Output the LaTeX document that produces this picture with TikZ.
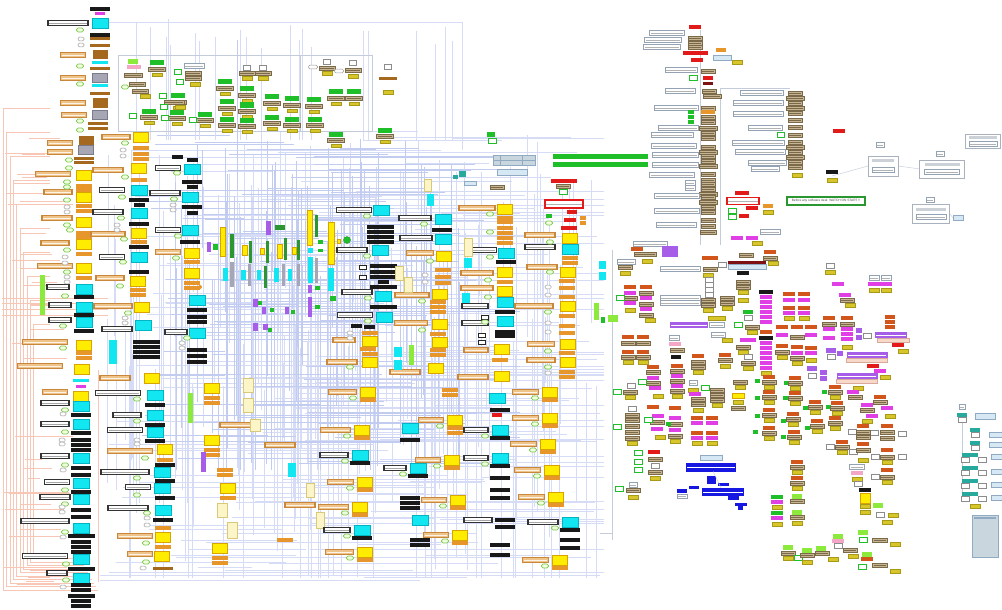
\documentclass[tikz,border=0pt]{standalone}
\usepackage{fontspec}
\newfontfamily\arialfont{Liberation Sans}
\definecolor{cY}{HTML}{FFEC00}\definecolor{cYd}{HTML}{D9A300}
\definecolor{cC}{HTML}{12E6F0}\definecolor{cCd}{HTML}{00B4C4}
\definecolor{cO}{HTML}{E6962A}\definecolor{cN}{HTML}{A4691E}
\definecolor{cQ}{HTML}{A7A6B4}\definecolor{cQd}{HTML}{7A7A8A}
\definecolor{cM}{HTML}{E13FE6}\definecolor{cLT}{HTML}{EFC48A}
\definecolor{cLTd}{HTML}{C8873A}\definecolor{cGo}{HTML}{F0FFE0}
\definecolor{cGod}{HTML}{7CC94C}\definecolor{cDG}{HTML}{2C9630}
\definecolor{cG}{HTML}{1FBF2A}\definecolor{cPu}{HTML}{A65DE8}
\definecolor{cL}{HTML}{8BEA3C}\definecolor{cPale}{HTML}{FBF5C8}
\definecolor{cPaled}{HTML}{D7C87A}\definecolor{cR}{HTML}{D2561C}
\definecolor{cT}{HTML}{C6B391}\definecolor{cTd}{HTML}{7A6A4A}
\definecolor{cK}{HTML}{D6C62A}\definecolor{cKd}{HTML}{A89A18}
\definecolor{cLW}{HTML}{93A3B3}\definecolor{cRed}{HTML}{E21A1A}
\definecolor{cDR}{HTML}{7E1212}\definecolor{cLB}{HTML}{D6E8F4}
\definecolor{cLBd}{HTML}{8FAAC2}\definecolor{cPk}{HTML}{F4A6C6}
\definecolor{cPl}{HTML}{F8D8C8}\definecolor{cPld}{HTML}{D8A898}
\definecolor{cTl}{HTML}{27A99E}\definecolor{cBl}{HTML}{1717E2}
\definecolor{cGrid}{HTML}{D6DCF5}\definecolor{cGrid2}{HTML}{C2CCF0}
\definecolor{cOrl}{HTML}{F7C6B4}\definecolor{cThin}{HTML}{C4CCDC}
\definecolor{cPan}{HTML}{A9B2BC}\definecolor{cPanB}{HTML}{C9D6DE}
\tikzset{
 bx/.style={rectangle,inner sep=0pt,outer sep=0pt,draw=none},
 txt/.style={path picture={\draw[#1,line width=.55pt] ([xshift=1.3pt]path picture bounding box.west) -- ([xshift=-1.3pt]path picture bounding box.east);}},
 sY/.style={bx,fill=cY,draw=cYd,line width=.4pt,minimum width=15,minimum height=10},
 sC/.style={bx,fill=cC,draw=cCd,line width=.4pt,minimum width=16,minimum height=10},
 sB/.style={bx,fill=black!90,minimum width=20,minimum height=3.5},
 sW/.style={bx,fill=black!90,minimum width=27,minimum height=3.5},
 sb/.style={bx,fill=black!90,minimum width=11,minimum height=3.5},
 sO/.style={bx,fill=cO,minimum width=16,minimum height=3.2},
 sN/.style={bx,fill=cN,minimum width=15,minimum height=9},
 sQ/.style={bx,fill=cQ,draw=cQd,line width=.4pt,minimum width=15,minimum height=9},
 su/.style={bx,fill=cN,minimum width=20,minimum height=3},
 se/.style={bx,fill=cC,minimum width=16,minimum height=3},
 sM/.style={bx,fill=cM,minimum width=10,minimum height=3},
 sx/.style={bx,fill=white,draw=black!85,line width=.9pt,minimum width=7,minimum height=4},
 labT/.style={bx,fill=cLT,draw=cLTd,line width=1.2pt,minimum height=4.5,txt=white!80!cLT},
 labK/.style={bx,fill=white,draw=black!80,line width=1.2pt,minimum height=4.5,txt=black!35},
 gov/.style={bx,fill=cGo,draw=cGod,line width=.6pt,rounded corners=1.6pt,minimum width=7,minimum height=4},
 gw/.style={bx,fill=white,draw=black!40,line width=.5pt,rounded corners=1.2pt,minimum width=6,minimum height=3.6},
 vY/.style={bx,fill=cY,draw=cYd,line width=.3pt},
 vG/.style={bx,fill=cDG},
 vg/.style={bx,fill=cG},
 vC/.style={bx,fill=cC},
 vQ/.style={bx,fill=cQ},
 vP/.style={bx,fill=cPu},
 vL/.style={bx,fill=cL},
 vp/.style={bx,fill=cPale,draw=cPaled,line width=.4pt},
 rr/.style={bx,fill=cR,minimum width=12,minimum height=4.2},
 rm/.style={bx,fill=cM,minimum width=12,minimum height=4},
 rt/.style={bx,fill=cT,draw=cTd,line width=.3pt,minimum width=14,minimum height=4,txt=cTd},
 rk/.style={bx,fill=cK,draw=cKd,line width=.3pt,minimum width=10,minimum height=3.6},
 rb/.style={bx,fill=black!90,minimum width=12,minimum height=4},
 rg/.style={bx,fill=cG,minimum width=12,minimum height=4.5},
 rl/.style={bx,fill=cL,minimum width=10,minimum height=5},
 rw/.style={bx,fill=white,draw=black!45,line width=.45pt,minimum width=8,minimum height=5},
 rgg/.style={bx,fill=white,draw=cG,line width=.6pt,minimum width=8,minimum height=5},
 rlw/.style={bx,fill=white,draw=cLW,line width=.5pt,minimum height=5,txt=black!30},
 rp/.style={bx,fill=cPu,minimum width=12,minimum height=5},
 rd/.style={bx,fill=cRed,minimum width=12,minimum height=4.5},
 rdr/.style={bx,fill=cDR,minimum width=10,minimum height=3},
 ro/.style={bx,fill=cO,minimum width=10,minimum height=4},
 rlb/.style={bx,fill=cLB,draw=cLBd,line width=.4pt,minimum height=5},
 rpk/.style={bx,fill=cPk,minimum width=12,minimum height=4.5},
 rpl/.style={bx,fill=cPl,draw=cPld,line width=.3pt,minimum height=4},
 rtl/.style={bx,fill=cTl,minimum width=10,minimum height=4},
 rbl/.style={bx,fill=cBl},
 ry/.style={bx,fill=cY,draw=cYd,line width=.4pt,minimum width=12,minimum height=5},
 rR/.style={bx,fill=white,draw=cRed,line width=1.2pt,minimum width=32,minimum height=6,txt=black!30},
 gridA/.style={draw=cGrid,line width=.35pt},
 gridB/.style={draw=cGrid2,line width=.35pt},
 orl/.style={draw=cOrl,line width=.45pt},
 thinln/.style={draw=cThin,line width=.45pt},
 panel/.style={bx,fill=white,draw=cPan,line width=.9pt},
}
\newcommand\UY[3]{\node[sY] at (#1,#2) {};\node[labT,minimum width=#3] at ({#1-11.5-#3/2},#2) {};\node[gov] at ({#1-15},{#2+6}) {};\node[sO] at (#1,{#2+8}) {};}
\newcommand\UC[3]{\node[sC] at (#1,#2) {};\node[labK,minimum width=#3] at ({#1-12-#3/2},#2) {};\node[gov] at ({#1-15},{#2+6}) {};\node[sB] at (#1,{#2+8}) {};}
\newcommand\rtk[2]{\node[rr] at (#1,#2) {};\node[rt] at (#1,{#2+5}) {};\node[rk] at (#1,{#2+10}) {};}
\newcommand\Gg[2]{\node[rg,minimum width=14,minimum height=5] at (#1,#2) {};\node[rt,minimum width=17] at (#1,{#2+6}) {};\node[rk] at (#1,{#2+11.5}) {};}
\begin{document}
\begin{tikzpicture}[x=1pt,y=-1pt]
\useasboundingbox (0,0) rectangle (1002,610);
\fill[white] (0,0) rectangle (1002,610);
% ---------- background connector mesh ----------
\pgfmathsetseed{2024}
\foreach \i in {1,...,170}{\pgfmathsetmacro\xa{106+494*rnd}\pgfmathsetmacro\ya{130+260*rnd}\pgfmathsetmacro\yb{min(578,\ya+60+330*rnd)}\draw[gridA] (\xa,\ya) -- (\xa,\yb);}
\foreach \i in {1,...,170}{\pgfmathsetmacro\yy{130+448*rnd}\pgfmathsetmacro\xa{102+380*rnd}\pgfmathsetmacro\xb{min(604,\xa+50+320*rnd)}\draw[gridA] (\xa,\yy) -- (\xb,\yy);}
\foreach \i in {1,...,80}{\pgfmathsetmacro\xa{165+300*rnd}\pgfmathsetmacro\ya{135+150*rnd}\pgfmathsetmacro\yb{min(470,\ya+80+200*rnd)}\draw[gridB] (\xa,\ya) -- (\xa,\yb);}
\foreach \i in {1,...,80}{\pgfmathsetmacro\yy{135+330*rnd}\pgfmathsetmacro\xa{140+200*rnd}\pgfmathsetmacro\xb{min(520,\xa+60+200*rnd)}\draw[gridB] (\xa,\yy) -- (\xb,\yy);}
\foreach \i in {1,...,22}{\pgfmathsetmacro\xa{108+355*rnd}\pgfmathsetmacro\ya{18+30*rnd}\draw[gridA] (\xa,\ya) -- (\xa,140);}
\draw[gridA] (104,22) -- (462,22) -- (462,150);
\draw[gridB] (237,40) -- (237,190);
\draw[gridA] (100,575) -- (600,575) (100,580) -- (420,580);
% left orange connector lines
\foreach \i in {0,...,9}{\pgfmathsetmacro\xx{3+3.4*\i}\pgfmathsetmacro\yt{108+24*\i}\pgfmathsetmacro\yb{590-3.5*\i}\draw[orl] (50,\yt) -- (\xx,\yt) -- (\xx,\yb) -- (98-2*\i,\yb);}
\foreach \i in {1,...,40}{\pgfmathsetmacro\yy{130+460*rnd}\pgfmathsetmacro\xa{3+30*rnd}\pgfmathsetmacro\xb{40+35*rnd}\draw[orl] (\xa,\yy) -- (\xb,\yy);}
\foreach \yy in {298,303,309,315}{\draw[orl] (2,\yy) -- (108,\yy);}
\draw[orl] (98,370) -- (98,582);
% right side thin lines
\draw[thinln] (700,30) -- (700,245) (720,88) -- (720,245) (720,88) -- (790,88);
\draw[thinln] (962,420) -- (962,500) (612,250) -- (612,540) (600,533) -- (612,533);
\foreach \yy in {455,468,481,494}{\draw[thinln] (962,\yy) -- (965,\yy);}
\draw[thinln] (898,166) -- (920,169) (950,214) -- (953,218) (832,176) -- (868,166);
\draw[thinln] (118,55) rectangle (372,131);
\draw[thinln] (300,55) -- (300,131);
% ---------- left/main block boxes ----------
\foreach \cc/\x/\y in {sB/100/9,sM/100/14,sC/100/23,sB/100/35,su/100/39,su/100/46,sN/100/55,se/100/63,su/100/69,sQ/100/78,se/100/86,su/100/94,sN/100/103,sQ/100/115,su/98/123,su/98/128,
sN/86/140,sQ/86/150,su/84/158,su/84/162,sY/84/175,sO/84/186,sO/84/190,sY/84/197,sO/84/206,sO/84/211,sY/84/222,sO/84/233,sO/84/237,sY/84/244,sO/84/254,sY/84/268,sO/84/278,sC/84/289,sB/84/297,sC/84/307,sB/84/315,sC/84/322,sB/84/331,sY/84/345,sO/84/353,sO/84/358,sY/82/369,se/81/380,sM/81/386,sY/81/396,sC/81/406,sB/81/415,sC/81/424,sB/81/433,sB/81/440,sB/81/445,sB/81/450,sC/81/458,sB/81/468,sB/81/475,sC/81/483,sB/81/492,sC/81/499,sB/81/510,sB/81/517,sC/81/528,sW/81/536,sB/81/542,sB/81/547,sB/81/552,sC/81/559,sW/81/569,sC/81/578,sB/81/585,sB/81/590,sW/81/596,sB/81/601,sB/81/606,
sY/141/137,sO/141/148,sO/141/154,sO/141/159,sY/139/168,sO/139/180,sC/139/190,sB/139/200,sb/139/205,sC/139/213,sB/139/224,sY/139/233,sO/139/242,sB/139/247,sC/139/257,sB/139/272,sY/138/281,sO/138/290,sO/138/295,sY/142/307,sC/143/325,sW/146/342,sW/146/347,sW/146/352,sW/146/357,sY/152/378,sC/155/395,sB/155/405,sC/155/415,sB/155/425,sC/155/432,sB/155/441,sY/165/449,sO/165/460,sB/165/465,sC/162/472,sB/165/481,sC/162/488,sB/165/498,sC/163/510,sB/163/520,sO/163/528,sY/163/537,sO/163/547,sY/162/556,su/163/568,
sb/177/157,sb/192/160,sC/192/169,sB/192/182,sb/192/187,sC/190/197,sB/192/207,sb/192/213,sC/190/230,sB/190/242,sY/192/253,sO/192/262,sY/192/273,sO/192/283,sO/192/288,sC/197/300,sB/197/310,sB/197/317,sB/197/322,sC/197/333,sB/197/350,sB/197/356,sB/197/362,
sC/381/210,sW/380/227,sW/380/232,sW/380/237,sW/380/242,sC/443/219,sB/442/230,sC/443/239,sC/380/250,sY/444/256,sx/363/267,sx/363/277,sW/383/266,sW/383/272,sW/383/277,sb/383/282,sW/383/287,sC/383/296,sY/440/294,sO/443/270,sO/443/277,sO/443/283,sW/383/307,sC/384/317,sY/440/324,sb/356/326,sb/369/327,sO/438/302,sO/438/307,sO/438/312,sO/438/334,sY/440/342,sO/438/350,sO/438/355,sY/370/341,sO/370/333,sO/368/349,sO/370/354,sY/370/362,sY/436/368,
sY/505/209,sO/505/218,sO/505/222,sO/505/228,sO/505/233,sO/505/238,sO/505/243,sC/506/253,sB/506/262,sY/505/272,sO/505/282,sY/505/291,sC/505/302,sB/505/312,sC/505/321,sx/485/317,sB/505/332,sB/505/336,sx/482/335,sx/482/342,sY/502/349,sO/500/360,sY/502/376,
sY/570/238,sC/570/249,sO/570/258,sO/570/263,sY/568/272,sO/567/281,sO/567/288,sO/567/297,sY/568/306,sO/567/316,sO/567/326,sO/567/333,sY/568/344,sO/567/353,sY/568/362,sO/567/372,sO/567/377,
sY/212/388,sO/212/398,sO/212/403,sY/212/440,sO/212/450,sO/212/455,sO/225/470,sO/225/475,sY/228/488,sO/228/498,sY/220/548,sO/220/558,sO/220/563,sO/285/540,
sC/410/428,sB/410/440,sB/410/498,sB/410/503,sB/410/508,sC/420/520,sB/420/540,sB/420/545,sO/450/390,sO/450/395,sO/455/433,
sC/497/398,sB/500/410,sB/500/478,sB/500/490,sB/500/498,sB/505/520,sB/505/527,sB/500/545,sB/500/555,sB/570/540,sB/570/548}
{\node[\cc] at (\x,\y) {};}
% labels left of the column boxes
\foreach \cc/\x/\y/\w in {K/68/23/40,T/73/55/25,T/73/78/25,T/73/103/25,T/74/115/25,T/60/143/25,T/60/152/25,T/53/174/35,T/58/192/28,T/57/218/30,T/55/243/28,T/55/266/35,K/58/287/22,K/60/305/22,K/60/320/22,T/45/342/45,T/40/366/45,T/55/392/25,K/55/403/28,K/55/424/28,K/55/456/28,K/57/482/25,K/55/497/30,K/45/521/48,K/45/556/45,K/57/573/20,
T/116/137/28,T/108/170/30,K/112/190/25,K/108/212/30,T/108/234/34,K/112/257/25,T/110/278/28,T/113/306/38,K/117/329/30,T/115/378/30,K/118/393/45,K/127/415/28,K/125/430/35,T/130/451/45,K/125/472/48,K/138/487/25,K/128/508/40,T/135/536/35,T/140/554/25,
K/168/168/25,K/165/193/30,K/168/230/25,T/168/252/25,K/176/332/22,
K/354/210/35,K/352/250/30,K/357/292/30,K/355/315/35,K/415/218/32,K/416/238/32,T/420/253/27,T/412/295/34,T/411/323/33,T/344/340/22,T/342/362/30,T/405/372/30,
T/477/208/36,K/484/250/25,T/477/273/32,T/477/288/32,K/475/306/26,K/475/323/26,T/476/350/24,T/473/377/30,
T/540/235/30,K/540/247/30,T/542/267/30,T/534/306/38,T/541/344/27,T/541/360/28,
K/478/520/28,T/240/425/40,T/280/445/30,T/300/505/30}
{\node[lab\cc,minimum width=\w] at (\x,\y) {};}
\foreach \x/\y in {80/30,80/66,80/84,80/121,80/130,69/160,69/168,67/182,67/187,67/200,67/225,70/230,67/250,67/272,65/296,63/326,63/348,65/410,65/432,65/465,65/490,65/504,65/532,66/564,66/580,
125/143,125/177,122/197,121/218,124/239,123/262,120/286,128/313,137/399,137/421,145/458,137/478,137/495,147/513,146/543,146/562,
177/173,176/258,187/338,178/236,174/199,367/216,424/224,367/256,430/261,368/298,422/301,368/321,422/330,350/367,
490/214,490/232,490/257,488/280,488/297,485/322,549/223,550/242,550/272,548/312,548/351,548/367,125/87}
{\node[gov] at (\x,\y) {};}
\foreach \x/\y in {81/39,81/45,67/207,67/212,65/257,65/263,67/277,67/282,63/414,62/440,62/444,63/470,62/507,62/512,63/537,63/587,123/150,123/156,117/225,117/230,125/318,125/323,137/440,137/444,147/518,147/525,143/568,173/205,173/210,182/343,182/348,425/275,425/282,350/333,350/338,548/287,548/295,548/323,548/332,548/373}
{\node[gw] at (\x,\y) {};}
% vertical bars and odd-sized boxes
\foreach \cc/\x/\y/\w/\h in {Y/223/242/5/29,G/232/246/4/24,P/209/247/4/10,g/215/247/5/6,C/225/274/5/13,Q/232/274/4/25,Y/245/250/5/10,G/250/252/3/22,C/243/275/5/10,Q/249/275/3/22,P/268/228/5/14,G/280/227/10/5,Y/262/251/4/6,G/267/252/3/22,C/259/275/4/10,G/265/277/3/22,Y/280/251/5/14,G/285/249/3/22,C/276/275/5/14,Q/283/275/3/22,Y/294/251/4/7,G/298/250/3/20,C/290/275/4/12,Q/298/275/3/22,
Y/310/228/5/35,G/316/226/3/22,C/310/250/5/5,g/320/242/5/4,g/320/250/5/3,C/310/270/5/26,Q/316/270/3/25,P/310/289/4/8,g/317/288/5/4,P/310/307/4/20,g/317/307/5/4,Y/331/243/6/42,C/331/279/6/23,g/333/298/6/5,Y/339/241/3/4,
P/255/303/5/8,g/260/303/4/4,P/264/310/4/7,g/272/310/4/4,P/287/310/4/7,g/293/312/4/4,P/255/327/5/8,P/265/327/5/6,g/270/330/4/4,
C/113/352/8/24,L/42/295/5/40,L/190/408/5/30,p/399/273/8/14,p/408/285/8/15,L/411/355/5/20,C/398/352/8/10,C/398/365/8/10,p/468/247/8/18,C/468/263/8/10,C/466/298/8/10,L/596/311/5/17,C/602/265/7/8,C/602/276/7/8,p/428/185/7/12,C/430/200/7/12,
p/248/385/10/14,p/248/405/10/14,p/255/425/10/12,P/203/462/5/20,p/222/510/10/14,p/232/530/10/16,C/292/470/8/14,p/310/490/8/14,p/320/520/8/16}
{\node[v\cc,minimum width=\w,minimum height=\h] at (\x,\y) {};}
\node[circle,fill=cG,draw=cDG,line width=.4pt,minimum size=7,inner sep=0pt] (gc) at (347,240) {};
\node[circle,fill=cO,minimum size=4,inner sep=0pt] (oc) at (200,287) {};
% lower main block units
\UY{368}{392}{28}\UY{362}{430}{30}\UC{360}{455}{28}\UY{365}{482}{26}\UY{360}{507}{30}\UC{362}{530}{26}\UY{365}{552}{28}
\UC{418}{468}{22}\UY{455}{420}{25}\UY{452}{460}{25}\UY{458}{500}{25}\UY{460}{535}{25}
\UC{500}{430}{24}\UC{500}{458}{24}
\UY{550}{392}{26}\UY{550}{418}{26}\UY{548}{444}{26}\UY{552}{470}{26}\UY{556}{497}{26}\UC{570}{522}{30}\UY{560}{560}{26}
% top-left cluster groups
\Gg{157}{63}\Gg{225}{82}\Gg{247}{89}\Gg{272}{97}\Gg{292}{99}\Gg{314}{100}\Gg{336}{92}\Gg{354}{92}\Gg{227}{102}\Gg{247}{105}\Gg{272}{117}\Gg{292}{119}\Gg{315}{119}\Gg{227}{119}\Gg{247}{120}\Gg{336}{134}\Gg{178}{96}\Gg{177}{112}\Gg{205}{114}\Gg{149}{111}\Gg{385}{130}
% ---------- right side small boxes ----------
\foreach \cc/\x/\y in {rr/637/249,rk/647/261,rt/625/267,rk/625/273,rw/722/265,rt/746/255,rr/770/252,rt/770/258,rk/773/263,rt/710/269,rk/708/275,rw/709/280,rw/709/285,rw/709/290,rw/709/295,rt/708/300,rt/708/305,rk/708/310,rb/743/273,rt/743/282,rt/743/287,rk/743/292,rk/743/300,rt/727/298,rt/727/303,rk/727/308,
rr/630/287,rr/646/287,rm/630/293,rt/646/293,rt/630/298,rm/646/298,rm/630/303,rt/646/304,rm/646/309,rk/630/310,rt/646/315,rk/650/320,rgg/620/298,
rk/727/340,rgg/738/325,rw/748/318,rt/752/327,rk/752/332,
rm/766/297,rm/766/302,rm/766/307,rm/766/312,rm/766/317,rm/766/322,rr/766/332,rm/766/343,rm/766/348,rm/766/353,rm/766/358,rm/766/363,rm/766/368,rk/766/373,
rt/743/347,rk/743/352,rw/748/357,rt/748/363,rk/748/368,
rr/789/294,rr/804/294,rm/789/300,rm/804/300,rr/789/308,rr/804/308,rm/789/313,rm/804/313,rk/789/318,rk/804/318,
rr/782/327,rr/797/327,rr/811/327,rm/782/335,rt/797/337,rm/811/335,rr/782/346,rr/797/347,rr/811/348,rt/782/352,rm/797/353,rm/811/353,rk/782/357,rt/797/358,rk/811/360,rk/797/363,
rr/829/318,rr/847/318,rt/829/324,rt/847/324,rm/829/329,rm/847/329,rm/847/334,rm/829/338,rm/847/339,rk/847/347,
rw/830/266,rk/830/272,rm/838/284,rm/845/295,rt/847/300,rk/850/305,rm/874/284,rm/886/284,rk/874/290,rk/886/290,
rw/867/336,rd/898/345,rk/903/351,rw/831/357,rd/873/366,rm/880/371,rk/885/377,rw/812/376,rk/858/388,
rm/853/392,rt/855/397,rr/880/397,rt/880/402,rm/887/408,rm/867/405,rt/867/410,rm/872/416,rk/890/416,rk/867/421,
rw/852/432,rw/874/433,rw/902/434,rr/863/426,rt/863/432,rt/863/437,rr/887/426,rt/887/432,rt/887/438,
rr/842/442,rt/842/447,rk/842/452,rw/830/447,rw/853/452,rr/863/444,rt/863/450,rk/863/460,rw/875/457,rr/887/450,rt/887/457,rk/887/462,rw/902/457,rr/887/470,rt/887/477,rk/887/482,rw/875/477,
rpk/857/473,rk/857/479,rw/858/484,rb/865/490,rk/865/506,rk/865/512,rl/878/505,rw/880/515,rk/893/515,rk/887/522,
rl/838/536,rpk/838/541,rw/838/546,rt/850/550,rk/853/556,rl/863/532,rgg/863/540,rk/895/544,rl/867/554,rr/867/559,rgg/862/567,rk/895/571,
rl/788/547,rt/788/553,rk/788/558,rgg/798/558,rl/807/550,rt/807/555,rk/807/562,rl/821/548,rt/822/553,rk/833/559,
rr/797/462,rt/797/467,rk/797/472,rr/797/478,rt/797/483,rk/797/488,rg/777/497,rm/777/502,rk/777/507,rg/777/513,rm/777/518,rk/777/524,rl/797/496,rt/797/501,rl/797/512,rt/797/517,rk/797/523,
rd/654/452,rt/655/459,rw/655/466,rt/655/472,rk/655/478,rgg/638/453,rgg/638/462,rgg/638/470,rt/633/490,rk/633/497,rgg/619/489,
rw/631/386,rt/630/392,rk/630/397,rgg/617/392,rw/632/409,rt/632/415,rt/632/420,rt/632/426,rt/632/432,rt/632/438,rk/632/443,rgg/617/427,
rr/653/407,rm/658/416,rt/657/422,rm/657/429,rk/660/437,rgg/648/420,rr/675/408,rm/675/418,rt/675/424,rm/675/430,rt/675/436,rk/675/441,
rr/697/418,rr/712/418,rm/697/423,rm/712/423,rr/697/433,rr/712/433,rm/697/438,rm/712/438,rk/697/443,rk/712/443,
rr/653/367,rt/653/372,rm/653/378,rt/653/383,rm/655/388,rk/658/396,rr/677/366,rt/677/371,rm/677/376,rt/677/381,rm/677/386,rt/677/391,rk/677/396,
rr/698/356,rt/698/362,rt/698/367,rk/698/372,rr/725/355,rt/725/360,rk/725/366,
rr/628/337,rr/643/337,rt/628/343,rt/643/343,rr/628/352,rr/643/352,rt/628/357,rt/643/357,rk/628/362,rk/643/362,
rpk/675/344,rt/677/350,rt/740/382,rk/740/387,ry/738/396,rk/738/402,rt/738/408,
rgg/705/388,rt/717/390,rt/717/395,rt/717/400,rk/717/405,rk/693/390,rm/695/394,rt/698/399,rt/698/404,rk/698/410,rgg/642/382,
rm/737/238,rm/752/238,rk/757/243,rb/832/172,rk/832/180,rgg/492/141,rt/497/187,rk/737/62,
rw/962/420,rw/975/435,rw/975/448,rw/965/460,rw/982/460,rw/965/473,rw/982/473,rw/965/486,rw/982/486,rw/965/499,rw/982/499,rk/975/506,rtl/962/415,rtl/975/430,rtl/975/443,
rt/563/186,rgg/563/192}
{\node[\cc] at (\x,\y) {};}
\foreach \cc/\x/\y/\w in {rd/695/27/12,rlw/667/33/35,rlw/663/40/37,rlw/662/47/37,rt/695/38/14,rt/695/43/14,rt/695/47/14,rd/697/60/12,ro/721/50/10,rlw/681/70/32,rt/708/71/14,rgg/693/78/8,rd/708/78/10,rdr/708/84/10,rlw/680/91/30,rt/709/91/14,rt/712/96/18,rlw/676/108/44,rt/708/108/14,ro/708/112/14,rt/708/117/14,rg/691/112/6,rg/691/117/6,rg/691/122/6,rt/708/122/14,rt/708/128/18,rlw/678/128/40,rlw/672/135/42,rt/708/133/14,rt/708/138/14,rlw/674/146/45,rt/708/147/14,rt/708/152/18,rlw/675/155/46,rlw/675/165/46,rt/708/156/14,rt/708/161/14,rt/708/166/18,rlw/672/175/45,rt/708/174/14,rt/708/180/14,rlw/690/183/10,rlw/690/188/10,rt/708/184/14,rt/708/189/14,rt/708/194/18,rlw/677/196/45,rt/708/197/14,rt/708/202/18,rt/708/207/14,rlw/677/211/45,rt/708/212/14,rlw/676/225/40,rt/708/220/14,rt/708/226/14,rt/708/232/16,rlw/650/244/34,
rlw/762/93/43,rlw/758/103/50,rlw/758/114/50,rlw/765/128/34,rlw/758/143/52,rlw/760/152/50,rlw/767/163/38,rlw/765/169/28,rt/795/93/14,rt/795/98/18,rt/795/103/14,rt/795/108/18,rt/795/113/14,rt/795/120/14,rt/795/127/14,rt/795/135/14,rt/795/142/14,rt/795/147/18,rt/795/152/14,rt/795/157/18,rt/795/162/14,rt/795/167/14,rk/797/175/10,rgg/781/135/7,
rd/742/193/14,rd/752/208/12,ro/768/206/10,rk/768/212/10,rgg/732/211/8,rgg/732/217/8,rd/744/216/10,rlw/770/232/20,
rd/839/131/12,rlw/880/145/8,rlw/940/154/8,rlw/930/200/8,rlw/962/407/6,
rt/645/254/22,rlw/626/262/18,rr/710/258/16,rlw/680/269/40,rlw/680/298/40,rlw/680/303/40,rlw/717/325/15,rk/717/318/17,rlw/718/335/14,rg/748/312/10,rb/766/292/14,rb/766/338/14,rm/748/340/16,rlw/874/278/10,rlw/886/278/10,rp/859/330/6,rp/859/337/6,rr/890/317/10,rr/890/322/10,rr/890/327/10,rp/831/350/10,rp/840/353/6,rp/812/368/10,rp/823/372/7,rp/823/378/7,
rg/757/381/5,rg/757/398/5,rg/757/416/5,rg/755/432/5,rg/786/383/5,rg/785/398/5,rg/783/421/5,rg/783/437/5,rg/805/408/5,rg/807/428/5,rg/824/392/5,rg/828/407/5,rg/668/424/5,
rlw/857/467/15,rt/880/540/15,rt/880/565/15,rlw/633/485/8,rlw/674/338/10,rb/676/357/10,rlw/693/383/8,
rl/133/62/10,rpk/134/67/14,rt/133/75/18,rt/137/84/16,rt/140/91/16,rk/145/96/10,rlw/194/66/20,rt/193/73/16,rt/193/78/16,rk/195/84/10,rt/174/102/20,rk/180/107/10,rw/247/68/7,rt/247/73/16,rk/247/78/10,rw/263/68/7,rt/263/73/16,rk/263/78/10,rw/327/62/7,rt/327/68/16,rk/327/73/10,rw/353/63/7,rt/353/70/16,rk/353/76/10,rgg/178/72/7,rgg/180/82/7,rgg/163/96/7,rgg/164/107/7,rgg/165/118/7,rgg/133/116/7,rgg/193/120/7,rk/388/92/10,rw/388/67/7,su/388/79/18,gw/313/67/9,gw/339/71/9,
ro/583/218/6,ro/583/223/6}
{\node[\cc,minimum width=\w] at (\x,\y) {};}
\foreach \cc/\x/\y/\w/\h in {rd/695/53/25/4.5,rlb/722/58/18/5,rR/743/201/32/7,rg/600/156/95/5,rg/600/164/95/5,rlb/512/172/30/6,rtl/462/174/7/6,rtl/455/177/5/4,rlb/470/183/12/4,rp/670/251/16/11,rdr/747/262/38/3,rlb/747/267/38/5,rd/564/181/26/4,rd/572/212/10/4,rg/549/216/6/4,rd/570/220/12/4,rd/569/228/16/4,rR/564/204/38/8,
rlb/711/458/22/5,rbl/711/480/9/8,rbl/723/484/11/3,rbl/694/487/10/3,rbl/682/491/10/4,rlw/682/496/10/4,rbl/733/498/11/4,rbl/741/504/12/3,rbl/740/508/5/4,ry/865/498/10/10,
rlb/985/416/20/6,rlb/997/435/15/5,rlb/996/445/14/5,rlb/997/457/12/5,rlb/997/472/12/5,rlb/997/485/12/5,rlb/997/498/12/5,rtl/970/455/16/4,rtl/970/468/16/4,rtl/970/481/16/4,rtl/970/494/16/4,rlb/958/218/10/5,rd/497/415/10/4,rg/491/134/8/5,rl/613/318/10/7,rg/603/320/4/6}
{\node[\cc,minimum width=\w,minimum height=\h] at (\x,\y) {};}
\foreach \x/\y/\w in {689/325/38,891/335/32,867/355/41,857/376/41}{\node[rp,minimum width=\w,minimum height=5.5,txt=white] at (\x,\y) {};}
\foreach \x/\y/\w in {893/340/32,867/360/41,857/381/41}{\node[rpl,minimum width=\w] at (\x,\y) {};}
\node[rbl,minimum width=50,minimum height=9,txt=white] (blueA) at (711,467) {};
\node[rbl,minimum width=42,minimum height=8,txt=white] (blueB) at (723,492) {};
\draw[thinln] (blueA) -- (blueB);
% right rtk groups
\rtk{769}{377}\rtk{769}{392}\rtk{769}{410}\rtk{769}{428}\rtk{795}{378}\rtk{795}{393}\rtk{793}{414}\rtk{794}{432}\rtk{815}{402}\rtk{817}{421}\rtk{835}{387}\rtk{837}{403}\rtk{835}{418}
% top middle panel
\node[bx,fill=cPanB,draw=cLBd,line width=.5pt,minimum width=42,minimum height=10] (tpanel) at (514,160) {};
\draw[cLBd,line width=.4pt] (500,155) -- (500,165) (522,155) -- (522,165) (493,160) -- (535,160);
% top right panels
\node[panel,minimum width=30,minimum height=20] (p1) at (883,166) {};
\node[bx,fill=cPan!60,minimum width=22,minimum height=3] at (883,160) {};
\node[rlw,minimum width=22] at (883,170) {};
\node[panel,minimum width=45,minimum height=18] (p2) at (942,169) {};
\node[bx,fill=cPan!60,minimum width=35,minimum height=3] at (942,164) {};
\node[rlw,minimum width=35] at (942,172) {};
\node[panel,minimum width=35,minimum height=14] (p3) at (983,141) {};
\node[bx,fill=cPan!60,minimum width=28,minimum height=3] at (983,137) {};
\node[rlw,minimum width=28] at (983,144) {};
\node[panel,minimum width=37,minimum height=19] (p4) at (931,214) {};
\node[bx,fill=cPan!60,minimum width=30,minimum height=3] at (931,209) {};
\node[rlw,minimum width=30] at (931,217) {};
\node[bx,fill=cPanB,draw=cLBd,line width=.5pt,minimum width=26,minimum height=42] (bigp) at (985,536) {};
\node[bx,fill=cLBd,minimum width=22,minimum height=1.5] at (985,518) {};
% warning box
\node[bx,draw=cDG,line width=1.6pt,fill=white,minimum width=78,minimum height=8,text=black!70,font=\arialfont\fontsize{3.2}{3.6}\selectfont] (warn) at (826,201) {Before any software deal: WATCH ON START !!};
\end{tikzpicture}
\end{document}
